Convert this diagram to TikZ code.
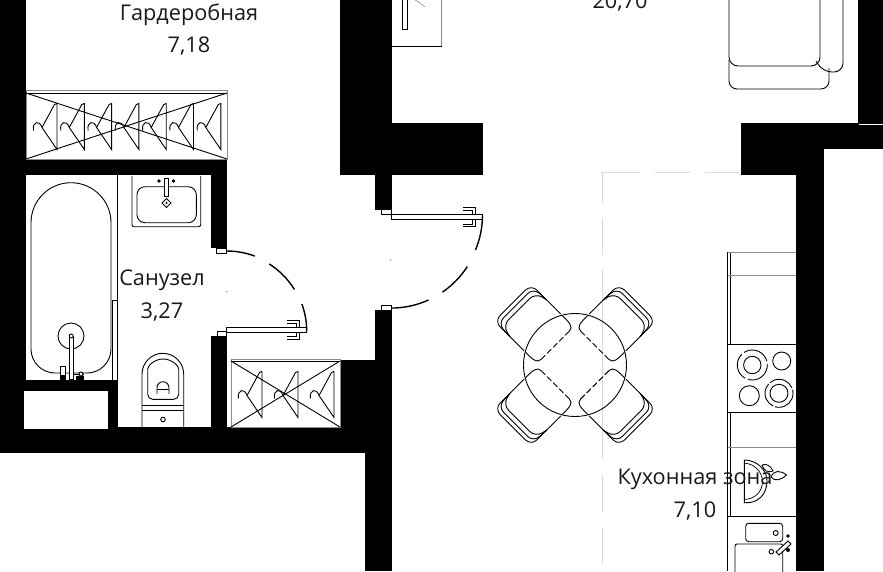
\documentclass[tikz,border=0pt]{standalone}
\usepackage{fontspec}
\setmainfont{Open Sans}
\usepackage{xcolor}
\definecolor{zoneGray}{gray}{0.85}
\definecolor{thinGray}{gray}{0.55}
\newcommand{\LabelSize}{\fontsize{21.7}{24}\selectfont}
\newcommand{\DrawHanger}[2]{%
    \draw[furn] (#1 - 24, #2 + 27) .. controls (#1 - 25.5, #2 + 18) and (#1 - 18, #2 + 16) .. (#1 - 15.5, #2 + 24)
        -- (#1 - 0.5, #2 + 46) -- (#1 - 0.5, #2) -- (#1 - 3, #2 + 1) -- (#1 - 15.5, #2 + 24);
}
\tikzset{
    wall/.style = {fill = black},
    furn/.style = {draw = black, line width = 0.9pt},
    thinline/.style = {draw = thinGray, line width = 0.6pt},
    zoneline/.style = {draw = zoneGray, line width = 1pt},
    roomlabel/.style = {font = \LabelSize, text = black!90, inner sep = 0pt},
    hinge/.style = {draw = black, fill = white, line width = 0.7pt},
    swing/.style = {draw = black, line width = 1.4pt},
}

\begin{document}
\begin{tikzpicture}[x = 1pt, y = 1pt, yscale = -1]
    \useasboundingbox (0, 0) rectangle (883, 571);

    % draw kitchen zone border
    \draw[zoneline] (601, 172.5) -- (640, 172.5) (655, 172.5) -- (690, 172.5) (705, 172.5) -- (740, 172.5);
    \draw[zoneline] (602, 172.5) -- (602, 203) (602, 218) -- (602, 255) (602, 270) -- (602, 458)
        (602, 475) -- (602, 512) (602, 528) -- (602, 564);

    % draw walls
    \fill[wall] (0, 0) rectangle (26, 453);
    \fill[wall] (0, 427) rectangle (365, 453);
    \fill[wall] (365, 427) rectangle (392, 571);
    \fill[wall] (375, 310) rectangle (392, 427);
    \fill[wall] (340, 360) rectangle (375, 427);
    \fill[wall] (26, 159) rectangle (227, 175);
    \fill[wall] (211, 175) rectangle (227, 248);
    \fill[wall] (211, 336) rectangle (227, 427);
    \fill[wall] (24, 380) rectangle (118, 391);
    \fill[wall] (107.5, 391) rectangle (118, 427);
    \fill[white] (24, 391) rectangle (107.5, 429);
    \fill[wall] (340, 0) rectangle (392, 175);
    \fill[wall] (392, 123) rectangle (483, 175);
    \fill[wall] (375, 175) rectangle (392, 210);
    \fill[wall] (740.5, 123) rectangle (883, 149);
    \fill[wall] (740.5, 149) rectangle (824, 175);
    \fill[wall] (796, 175) rectangle (824, 571);
    \fill[wall] (858, 0) rectangle (883, 123);
    \draw[white, line width = 0.8pt] (859, 124.5) -- (883, 124.5);

    % draw upper wardrobe
    \draw[furn, draw = thinGray] (26, 90.5) rectangle (227, 159);
    \draw[furn] (26, 93) -- (227, 93);
    \draw[furn] (26, 93) -- (227, 159);
    \draw[furn] (26, 159) -- (227, 93);
    \foreach \x in {57.5, 84.8, 112.1, 139.4, 166.7, 194, 221.3}
        \DrawHanger{\x}{103.5}
    ;

    % draw lower wardrobe
    \draw[furn, draw = thinGray] (231, 359.5) rectangle (340, 427);
    \draw[furn] (231, 361) -- (340, 361);
    \draw[furn] (231, 361) -- (340, 427);
    \draw[furn] (231, 427) -- (340, 361);
    \foreach \x in {262.5, 298.5, 334.5}
        \DrawHanger{\x}{371.5}
    ;

    % draw bath
    \draw[furn] (31, 222.7) arc[start angle = 180, end angle = 360, radius = 40]
        -- (111, 349) arc[start angle = 0, end angle = 90, radius = 24]
        -- (55, 373) arc[start angle = 90, end angle = 180, radius = 24] -- cycle;
    \draw[furn] (117, 175) -- (117, 380);
    \draw[furn, line width = 0.7pt] (112.5, 380) -- (112.5, 300) -- (117, 300);
    \draw[furn] (71, 336) circle[radius = 13];
    \draw[furn, fill = white] (69.5, 336) rectangle (73, 379);
    \draw[furn, fill = white] (71.2, 336) circle[radius = 2];
    \draw[furn, fill = white] (60, 366) rectangle (65, 375);
    \draw[furn] (73, 374) -- (84, 374);
    \draw[furn, fill = white] (81, 374) circle[radius = 2];
    \fill[black] (60, 376) rectangle (66, 380);
    \fill[black] (76, 376) rectangle (84, 380);

    % draw washbasin
    \draw[furn, rounded corners = 2pt] (132, 176) -- (132, 226.7) -- (200.7, 226.7) -- (200.7, 176);
    \draw[furn, rounded corners = 8pt] (137, 186.7) rectangle (196.3, 222.7);
    \draw[furn, fill = white] (164, 178) rectangle (168, 196);
    \fill[black] (159, 181) circle[radius = 1.8];
    \fill[black] (173.5, 181) circle[radius = 1.8];
    \draw[furn] (166.5, 198.5) -- (171, 203) -- (166.5, 207.5) -- (162, 203) -- cycle;
    \fill[black] (166.5, 203) circle[radius = 1.2];

    % draw toilet
    \draw[furn] (142, 427) -- (142, 374.3) arc[start angle = 180, end angle = 360, x radius = 20.85, y radius = 21] -- (183.7, 427);
    \draw[furn, rounded corners = 5pt] (147.7, 374) arc[start angle = 180, end angle = 360, x radius = 15.5, y radius = 15]
        -- (178.7, 399.3) -- (147.7, 399.3) -- cycle;
    \draw[furn] (142, 405) -- (183.7, 405);
    \draw[furn] (142, 410.7) -- (183.7, 410.7);
    \draw[furn] (163, 419.5) circle[radius = 2.3];
    \draw[furn] (157, 394) -- (157, 387.7) arc[start angle = 180, end angle = 360, radius = 6] -- (169, 394);
    \draw[furn] (157, 389) -- (169, 389);

    % draw bathroom door
    \draw[swing, draw = black, line width = 0.8pt, fill = white] (226.7, 327.5) rectangle (306.7, 332.5);
    \draw[furn, line width = 0.8pt] (287, 320.5) -- (299, 320.5) -- (299, 327.5) (287, 323) -- (296.5, 323) -- (296.5, 327.5);
    \draw[furn, line width = 0.8pt] (287, 339) -- (299, 339) -- (299, 332.5) (287, 336.5) -- (296.5, 336.5) -- (296.5, 332.5);
    \draw[swing] (226.7, 251) arc[start angle = 270, end angle = 290.6, radius = 80];
    \draw[swing] (269.3, 264) arc[start angle = 302.5, end angle = 328.3, radius = 80];
    \draw[swing] (301.9, 304) arc[start angle = 340, end angle = 360, radius = 80];
    \draw[hinge] (216.7, 253) rectangle (226.7, 248);
    \draw[hinge] (217.5, 331) rectangle (226.7, 336);
    \fill[thinGray] (226.7, 291.7) circle[radius = 0.8];

    % draw entrance door
    \draw[swing, draw = black, line width = 0.8pt, fill = white] (391, 214.5) rectangle (482.7, 219.5);
    \draw[furn, line width = 0.8pt] (462.5, 207.5) -- (475, 207.5) -- (475, 214.5) (462.5, 210) -- (472.5, 210) -- (472.5, 214.5);
    \draw[furn, line width = 0.8pt] (462.5, 226.5) -- (475, 226.5) -- (475, 219.5) (462.5, 224) -- (472.5, 224) -- (472.5, 219.5);
    \draw[swing] (482.5, 215) arc[start angle = 0, end angle = 22.6, radius = 91];
    \draw[swing] (467.3, 266.6) arc[start angle = 32.9, end angle = 55.5, radius = 91];
    \draw[swing] (428.5, 300) arc[start angle = 65.7, end angle = 90, radius = 91];
    \draw[hinge] (381.7, 209.5) rectangle (391.5, 214.5);
    \draw[hinge] (381.7, 305) rectangle (391.5, 310);
    \fill[thinGray] (390.7, 260) circle[radius = 0.8];

    % draw dining table and chairs
    \foreach \a in {45, 135, 225, 315} {
        \begin{scope}[shift = {(575, 365)}, rotate = \a]
            \draw[furn] (46, -26) -- (66, -26) (46, 26) -- (66, 26);
            \draw[furn, rounded corners = 8pt] (66, -26) -- (88, -26) -- (88, 26) -- (66, 26);
            \draw[furn, rounded corners = 8pt] (66, -26) -- (84, -25) -- (84, 25) -- (66, 26);
            \draw[furn, rounded corners = 8pt] (66, -26) -- (79, -23) -- (79, 23) -- (66, 26);
            \draw[furn] (44, 26) .. controls (34, 26) and (28, 26) .. (28, 20);
            \draw[furn] (44, -26) .. controls (34, -26) and (28, -26) .. (28, -20);
            \draw[furn, dash pattern = on 6pt off 2.5pt] (28, 20) -- (28, -20);
        \end{scope}
    }
    \draw[furn] (575, 365) circle[radius = 51.5];

    % draw sofa
    \draw[furn, rounded corners = 9pt] (729, -4) -- (729, 66) -- (820, 66) -- (820, -4);
    \draw[furn, rounded corners = 8pt] (729, 60) -- (729, 89) -- (829, 89) -- (829, 68);
    \draw[furn, rounded corners = 9pt] (843, -4) -- (843, 72) -- (823, 72) -- (816, 61);

    % draw sideboard
    \draw[furn, draw = thinGray, line width = 1.2pt] (441.7, 0) -- (441.7, 46);
    \draw[furn] (392, 46) -- (442, 46);
    \draw[furn, line width = 0.7pt] (402.3, 0) -- (402.3, 29.7) -- (407.3, 29.7) -- (407.3, 0);
    \draw[thinline] (415, 0) -- (420, 3) -- (425, 7);

    % draw kitchen units
    \draw[furn] (727.7, 252) -- (727.7, 571);
    \draw[furn, line width = 0.7pt] (730, 252) -- (730, 344) (730, 413) -- (730, 516.7);
    \draw[thinline] (727.7, 252.3) -- (796, 252.3);
    \draw[thinline] (727.7, 275) -- (796, 275);
    \draw[thinline] (727.7, 447) -- (796, 447);
    \draw[furn] (727.7, 344) -- (796, 344);
    \draw[furn] (727.7, 412.7) -- (796, 412.7);
    \draw[furn] (727.7, 516.7) -- (796, 516.7);

    % draw hob
    \draw[furn, dash pattern = on 28pt off 3pt] (752.3, 365) circle[radius = 15];
    \draw[furn] (752.3, 365) circle[radius = 8.7];
    \draw[furn] (781.7, 361) circle[radius = 9];
    \draw[furn] (749.3, 395.7) circle[radius = 10];
    \draw[furn, dash pattern = on 26pt off 2pt] (779, 393.3) circle[radius = 14];
    \draw[furn] (779, 393.3) circle[radius = 9];

    % draw bowl and plant
    \draw[furn] (744.3, 460) -- (744.3, 502.7) .. controls (758, 504) and (767, 494) .. (767, 481) .. controls (767, 470) and (757, 460) .. (744.3, 460);
    \draw[furn, line width = 0.7pt] (744.3, 463) .. controls (755, 464) and (762, 472) .. (762.5, 481) .. controls (762.5, 492) and (755, 499) .. (744.3, 499.5);
    \draw[furn, fill = white] (762, 465) .. controls (766, 463) and (771, 466) .. (773, 471) .. controls (768, 473) and (764, 471) .. (762, 465);
    \draw[furn, fill = white] (771, 477) .. controls (774, 470) and (780, 470) .. (786.5, 475) .. controls (781, 480) and (775, 482) .. (771, 477);

    % draw kitchen sink
    \draw[furn, rounded corners = 3pt] (745.7, 523.3) rectangle (782.7, 541.7);
    \draw[furn] (775.7, 533) circle[radius = 2.5];
    \draw[furn, rounded corners = 2pt] (735, 575) -- (735, 544) -- (782.7, 544) -- (782.7, 575);
    \draw[furn, fill = white] (771.3, 551.7) circle[radius = 2.3];
    \draw[furn, fill = white] (776, 552) -- (779, 555) -- (791, 544) -- (788, 541) -- cycle;
    \fill[black] (788, 536) circle[radius = 1.8];
    \fill[black] (788, 550) circle[radius = 2];

    % draw room labels
    \node[roomlabel] (wardrobeName) at (189, 14.5) {Гардеробная};
    \node[roomlabel] (wardrobeArea) at (189, 46.5) {7,18};
    \node[roomlabel] (bathName) at (162, 280.5) {Санузел};
    \node[roomlabel] (bathArea) at (162, 312.5) {3,27};
    \node[roomlabel] (livingArea) at (620, 2.5) {20,70};
    \node[roomlabel] (kitchenName) at (695, 479.5) {Кухонная зона};
    \node[roomlabel] (kitchenArea) at (695, 511.5) {7,10};

\end{tikzpicture}
\end{document}
